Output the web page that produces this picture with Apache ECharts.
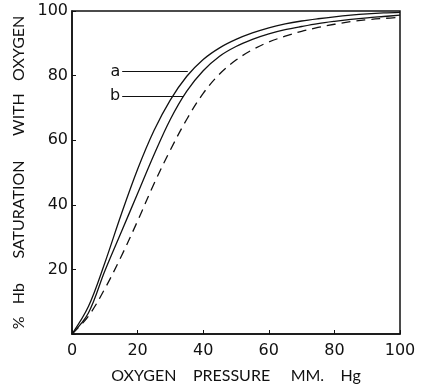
<!DOCTYPE html>
<html>
<head>
<meta charset="utf-8">
<script src="https://cdn.jsdelivr.net/npm/echarts@6/dist/echarts.min.js"></script>
<style>html,body{margin:0;padding:0;background:#fff}#c{width:421px;height:389px}</style>
</head>
<body>
<div id="c"></div>
<script>
// Oxygen pressure (mm Hg)
const pressure = [0, 5, 10, 15, 20, 25, 30, 35, 40, 45, 50, 55, 60, 65, 70, 75, 80, 85, 90, 95, 100];
// % Hb saturation
const curveA = [0, 8.5, 22, 37, 51, 63, 72.5, 79.8, 85, 88.6, 91.2, 93.2, 94.8, 96, 96.9, 97.6, 98.2, 98.7, 99.1, 99.4, 99.6];
const curveB = [0, 6.5, 19.5, 31.5, 43.5, 55.5, 66.5, 75.2, 81.5, 86, 89, 91.2, 92.9, 94.2, 95.2, 96.1, 96.8, 97.4, 97.9, 98.3, 98.7];
const curveC = [0, 5.5, 14, 24, 35, 46.5, 57, 66.5, 74.5, 80.5, 84.8, 88, 90.4, 92.2, 93.7, 94.9, 95.9, 96.7, 97.3, 97.7, 98];
// labelled leader lines: [label, y, xStart, xEnd]
const leaderA = ['a', 81.2, 15.3, 35.3];
const leaderB = ['b', 73.7, 15.3, 34.1];
const xTicks = [0, 20, 40, 60, 80, 100];
const yTicks = [0, 20, 40, 60, 80, 100];

const pts = ys => pressure.map((x, i) => [x, ys[i]]);
const leader = l => [[{coord: [l[2], l[1]], label: {formatter: l[0]}}, {coord: [l[3], l[1]]}]];

const chart = echarts.init(document.getElementById('c'));
const axisText = {color: '#111', fontFamily: 'DejaVu Sans', fontSize: 16};
const curve = (ys, dash) => ({
  type: 'line', data: pts(ys), smooth: 0.35, symbol: 'none',
  lineStyle: {color: '#111', width: 1.3, type: dash ? [9, 6] : 'solid'}
});
const leaderMark = l => ({silent: true, symbol: 'none', data: leader(l),
  lineStyle: {color: '#111', width: 1.2, type: 'solid'},
  label: {position: 'start', color: '#111', fontFamily: 'DejaVu Sans', fontSize: 16, distance: 2}});
const sA = curve(curveA); sA.markLine = leaderMark(leaderA);
const sB = curve(curveB); sB.markLine = leaderMark(leaderB);
const sC = curve(curveC, true);

chart.setOption({
  animation: false,
  grid: {left: 72, right: 21, top: 11, bottom: 55, show: true, borderColor: '#111', borderWidth: 1.5},
  xAxis: {
    type: 'value', min: 0, max: 100, interval: 20,
    axisLine: {lineStyle: {color: '#111', width: 1.5}},
    axisTick: {inside: true, length: 4, lineStyle: {color: '#111'}},
    splitLine: {show: false},
    axisLabel: Object.assign({margin: 9}, axisText),
    name: 'OXYGEN    PRESSURE     MM.    Hg',
    nameLocation: 'middle', nameGap: 34,
    nameTextStyle: {color: '#111', fontFamily: 'Lato', fontSize: 16}
  },
  yAxis: {
    type: 'value', min: 0, max: 100, interval: 20,
    axisLine: {lineStyle: {color: '#111', width: 1.5}},
    axisTick: {inside: true, length: 4, lineStyle: {color: '#111'}},
    splitLine: {show: false},
    axisLabel: Object.assign({margin: 4, formatter: v => v === 0 ? '' : v}, axisText),
    name: '%   Hb      SATURATION      WITH   OXYGEN',
    nameLocation: 'middle', nameGap: 44,
    nameTextStyle: {color: '#111', fontFamily: 'Lato', fontSize: 16}
  },
  series: [sA, sB, sC]
});
</script>
</body>
</html>
